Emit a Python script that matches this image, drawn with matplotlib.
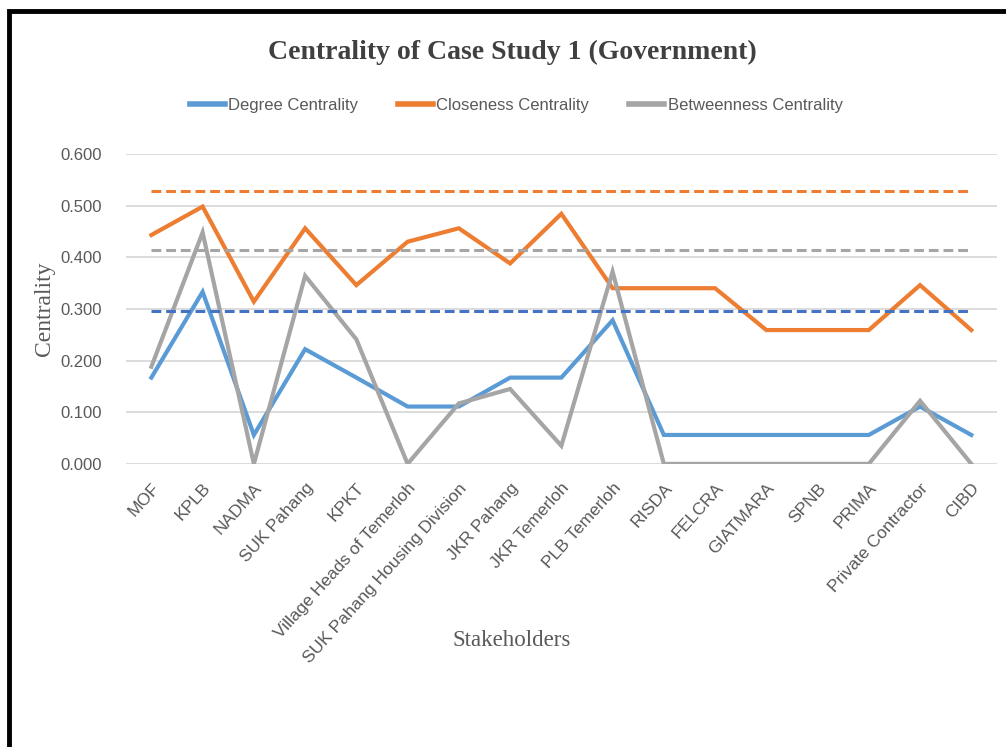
import matplotlib
matplotlib.use("Agg")
from matplotlib import pyplot as plt
from matplotlib.patches import Rectangle

# data
stakeholders = ["MOF", "KPLB", "NADMA", "SUK Pahang", "KPKT", "Village Heads of Temerloh",
                "SUK Pahang Housing Division", "JKR Pahang", "JKR Temerloh", "PLB Temerloh",
                "RISDA", "FELCRA", "GIATMARA", "SPNB", "PRIMA", "Private Contractor", "CIBD"]
degree = [0.167, 0.333, 0.056, 0.222, 0.167, 0.111, 0.111, 0.167, 0.167, 0.278,
          0.056, 0.056, 0.056, 0.056, 0.056, 0.111, 0.056]
closeness = [0.443, 0.498, 0.314, 0.456, 0.346, 0.430, 0.456, 0.388, 0.484, 0.340,
             0.340, 0.340, 0.259, 0.259, 0.259, 0.346, 0.259]
betweenness = [0.188, 0.448, 0.0, 0.364, 0.241, 0.0, 0.117, 0.145, 0.035, 0.372,
               0.0, 0.0, 0.0, 0.0, 0.0, 0.122, 0.0]
degree_ref = 0.295
closeness_ref = 0.528
betweenness_ref = 0.414

blue = "#5B9BD5"
orange = "#ED7D31"
grey = "#A5A5A5"
txt = "#595959"

fig = plt.figure(figsize=(10.06, 7.47), dpi=100)
ax = fig.add_axes([0.125, 0.379, 0.866, 0.415])

x = list(range(len(stakeholders)))
ax.plot(x, degree, color=blue, lw=3, label="Degree Centrality", solid_joinstyle="miter")
ax.plot(x, closeness, color=orange, lw=3, label="Closeness Centrality", solid_joinstyle="miter")
ax.plot(x, betweenness, color=grey, lw=3, label="Betweenness Centrality", solid_joinstyle="miter")

# reference (dashed) lines
ax.plot([x[0], x[-1]], [closeness_ref] * 2, color=orange, lw=2.2, dashes=(3.2, 1.6))
ax.plot([x[0], x[-1]], [betweenness_ref] * 2, color=grey, lw=2.2, dashes=(3.2, 1.6))
ax.plot([x[0], x[-1]], [degree_ref] * 2, color="#4472C4", lw=2.2, dashes=(3.2, 1.6))

ax.set_xlim(-0.5, len(stakeholders) - 0.5)
ax.set_ylim(0, 0.6)
ax.set_yticks([0, 0.1, 0.2, 0.3, 0.4, 0.5, 0.6])
ax.set_yticklabels(["%.3f" % v for v in [0, 0.1, 0.2, 0.3, 0.4, 0.5, 0.6]],
                   color=txt, fontsize=12, family="Liberation Sans")
ax.grid(axis="y", color="#D9D9D9", lw=1.3)
ax.set_axisbelow(True)
for s in ax.spines.values():
    s.set_visible(False)
ax.tick_params(length=0, pad=17)
ax.tick_params(axis="x", pad=12)

ax.set_xticks(x)
ax.set_xticklabels(stakeholders, rotation=48, ha="right", rotation_mode="anchor",
                   color=txt, fontsize=12.5, family="Liberation Sans")

ax.set_ylabel("Centrality", family="Liberation Serif", fontsize=17, color=txt, labelpad=4)
fig.text(0.509, 0.143, "Stakeholders", family="Liberation Serif", fontsize=16.5,
         color=txt, ha="center", va="center")

fig.text(0.509, 0.93, "Centrality of Case Study 1 (Government)", family="Liberation Serif",
         fontsize=20, fontweight="bold", color="#404040", ha="center", va="center")

leg = fig.legend(loc="center", bbox_to_anchor=(0.513, 0.859), ncol=3, frameon=False,
                 handlelength=2.1, handletextpad=0.2, columnspacing=2.4,
                 prop={"family": "Liberation Sans", "size": 12})
for t in leg.get_texts():
    t.set_color(txt)
for h in leg.legend_handles:
    h.set_linewidth(4)

# black frame around the chart
fig.patches.append(Rectangle((0.009, -0.05), 1.1, 1.035, transform=fig.transFigure,
                             fill=False, edgecolor="black", lw=3.5))

fig.savefig("out.png", dpi=100)
